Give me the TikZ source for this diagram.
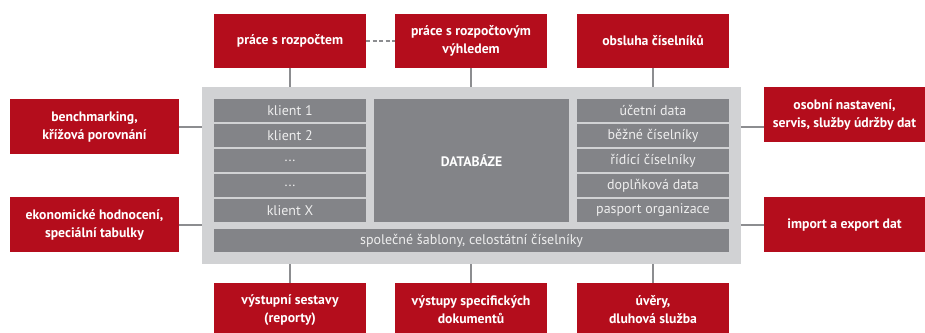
\documentclass[tikz,border=0pt]{standalone}
\usepackage{fontspec}
\setmainfont{PT Sans}
\definecolor{redbox}{HTML}{B40D1C}
\definecolor{outergray}{HTML}{D1D2D4}
\definecolor{innergray}{HTML}{838488}
\definecolor{linegray}{HTML}{8C8D90}
\definecolor{innertext}{HTML}{EEEEEE}
\begin{document}
\begin{tikzpicture}[x=1pt,y=-1pt,
  redbox/.style={fill=redbox,text=white,font=\fontsize{13.7}{18}\selectfont\bfseries,align=center,inner sep=0pt,minimum height=54pt},
  cell/.style={fill=innergray,text=innertext,font=\fontsize{14}{16}\selectfont,inner sep=0pt,minimum height=23pt,minimum width=152pt},
  conn/.style={draw=linegray,line width=2pt}]
\useasboundingbox (0,0) rectangle (925,332);
\clip (0,0) rectangle (925,332);
% outer
\node[fill=outergray,inner sep=0pt,minimum width=539pt,minimum height=177pt] (outer) at (471.5,175.5) {};
% left column
\node[cell] (k1) at (290,110.5) {klient 1};
\node[cell] (k2) at (290,135.5) {klient 2};
\node[cell] (k3) at (290,160.5) {...};
\node[cell] (k4) at (290,185.5) {...};
\node[cell] (k5) at (290,210.5) {klient X};
% middle
\node[cell,minimum width=195pt,minimum height=123pt,font=\fontsize{13.7}{16}\selectfont\bfseries,text=white] (db) at (471.5,160.5) {DATABÁZE};
% right column
\node[cell] (d1) at (653,110.5) {účetní data};
\node[cell] (d2) at (653,135.5) {běžné číselníky};
\node[cell] (d3) at (653,160.5) {řídící číselníky};
\node[cell] (d4) at (653,185.5) {doplňková data};
\node[cell] (d5) at (653,210.5) {pasport organizace};
% bottom bar
\node[cell,minimum width=515pt] (bar) at (471.5,240.5) {společné šablony, celostátní číselníky};
% red boxes
\node[redbox,minimum width=152pt] (t1) at (290,41) {práce s rozpočtem};
\node[redbox,minimum width=152pt] (t2) at (471,41) {práce s rozpočtovým\\výhledem};
\node[redbox,minimum width=152pt] (t3) at (653,41) {obsluha číselníků};
\node[redbox,minimum width=169pt,minimum height=55pt] (l1) at (94.5,126.5) {benchmarking,\\křížová porovnání};
\node[redbox,minimum width=169pt,minimum height=55pt] (l2) at (94.5,224.5) {ekonomické hodnocení,\\speciální tabulky};
\node[redbox,minimum width=161pt,minimum height=55pt] (r1) at (844.5,114.5) {osobní nastavení,\\servis, služby údržby dat};
\node[redbox,minimum width=161pt,minimum height=55pt] (r2) at (844.5,224.5) {import a export dat};
\node[redbox,minimum width=152pt] (b1) at (290,310) {výstupní sestavy\\(reporty)};
\node[redbox,minimum width=152pt] (b2) at (471,310) {výstupy specifických\\dokumentů};
\node[redbox,minimum width=152pt] (b3) at (653,310) {úvěry,\\dluhová služba};
% connectors
\draw[conn] (t1.south) -- (t1.south |- outer.north);
\draw[conn] (t2.south) -- (t2.south |- outer.north);
\draw[conn] (t3.south) -- (t3.south |- outer.north);
\draw[conn] (b1.north) -- (b1.north |- outer.south);
\draw[conn] (b2.north) -- (b2.north |- outer.south);
\draw[conn] (b3.north) -- (b3.north |- outer.south);
\draw[conn,dash pattern=on 4pt off 2.5pt] (t1.east) -- (t2.west);
\draw[conn] (l1.east) -- (outer.west |- l1.east);
\draw[conn] (l2.east) -- (outer.west |- l2.east);
\draw[conn] (outer.east |- l1.east) -- (r1.west |- l1.east);
\draw[conn] (outer.east |- r2.west) -- (r2.west);
\end{tikzpicture}
\end{document}
